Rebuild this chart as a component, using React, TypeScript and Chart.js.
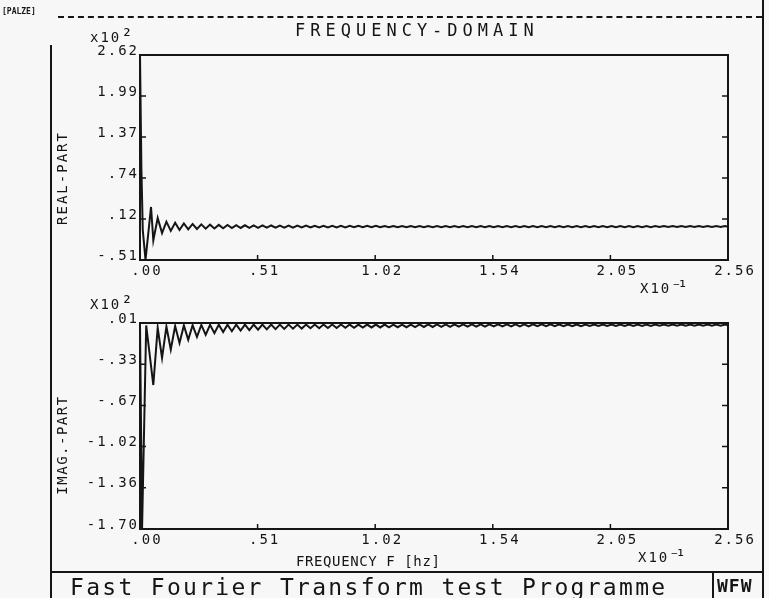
import React, { useEffect, useRef } from "react";
import { Chart, registerables } from "chart.js";

Chart.register(...registerables);

// ---------- axis data ----------
const freqMin = 0;
const freqMax = 2.56; // x10^-1 Hz
const freqTickValues = [0, 0.512, 1.024, 1.536, 2.048, 2.56];
const freqTickLabels = [".00", ".51", "1.02", "1.54", "2.05", "2.56"];

const realMin = -0.51;
const realMax = 2.62; // x10^2
const realTickValues = [-0.51, 0.116, 0.742, 1.368, 1.994, 2.62];
const realTickLabels = ["-.51", ".12", ".74", "1.37", "1.99", "2.62"];

const imagMin = -1.7;
const imagMax = 0.01; // x10^2
const imagTickValues = [-1.7, -1.358, -1.016, -0.674, -0.332, 0.01];
const imagTickLabels = ["-1.70", "-1.36", "-1.02", "-.67", "-.33", ".01"];

// ---------- series data ----------
const realHeadFreq = [0, 0.006, 0.012, 0.024, 0.048];
const realHeadValues = [2.62, 0.9, -0.05, -0.51, 0.3];

const imagHeadFreq = [0, 0.009, 0.027];
const imagHeadValues = [0.0, -1.7, -0.01];

// ripple part, sampled at the ripple extremes (uniform frequency bins)
const rippleStartFreq = 0.058;
const rippleBinWidth = 0.019;

const realRipple = [
  -0.21, 0.13, -0.1, 0.075, -0.065, 0.058, -0.052, 0.047, -0.043, 0.04,
  -0.037, 0.034, -0.032, 0.03, -0.028, 0.026, -0.025, 0.024, -0.023, 0.022,
  -0.021, 0.02, -0.019, 0.019, -0.018, 0.018, -0.017, 0.017, -0.016, 0.016,
  -0.015, 0.015, -0.015, 0.014, -0.014, 0.014, -0.013, 0.013, -0.013, 0.013,
  -0.012, 0.012, -0.012, 0.012, -0.012, 0.011, -0.011, 0.011, -0.011, 0.011,
  -0.011, 0.011, -0.01, 0.01, -0.01, 0.01, -0.01, 0.01, -0.01, 0.01,
  -0.01, 0.01, -0.01, 0.01, -0.009, 0.009, -0.009, 0.009, -0.009, 0.009,
  -0.009, 0.009, -0.009, 0.009, -0.009, 0.009, -0.009, 0.009, -0.009, 0.009,
  -0.009, 0.009, -0.009, 0.009, -0.008, 0.008, -0.008, 0.008, -0.008, 0.008,
  -0.008, 0.008, -0.008, 0.008, -0.008, 0.008, -0.008, 0.008, -0.008, 0.008,
  -0.008, 0.008, -0.008, 0.008, -0.008, 0.008, -0.008, 0.008, -0.008, 0.008,
  -0.008, 0.008, -0.008, 0.008, -0.008, 0.008, -0.007, 0.007, -0.007, 0.007,
  -0.007, 0.007, -0.007, 0.007, -0.007, 0.007, -0.007, 0.007, -0.007, 0.007,
  -0.007, 0.007, -0.007,
];

const imagRipple = [
  -0.505, -0.03, -0.28, -0.02, -0.21, -0.015, -0.155, -0.01, -0.13, -0.008,
  -0.105, -0.006, -0.088, -0.005, -0.074, -0.004, -0.065, -0.004, -0.058, -0.003,
  -0.053, -0.003, -0.049, -0.003, -0.046, -0.003, -0.043, -0.003, -0.041, -0.003,
  -0.039, -0.003, -0.037, -0.003, -0.036, -0.003, -0.034, -0.003, -0.033, -0.003,
  -0.032, -0.003, -0.031, -0.003, -0.03, -0.003, -0.029, -0.003, -0.028, -0.003,
  -0.027, -0.003, -0.027, -0.003, -0.026, -0.003, -0.025, -0.003, -0.025, -0.003,
  -0.024, -0.002, -0.023, -0.002, -0.023, -0.002, -0.022, -0.002, -0.022, -0.002,
  -0.021, -0.002, -0.021, -0.002, -0.02, -0.002, -0.02, -0.002, -0.019, -0.002,
  -0.019, -0.002, -0.018, -0.002, -0.018, -0.002, -0.018, -0.002, -0.017, -0.002,
  -0.017, -0.002, -0.017, -0.002, -0.016, -0.002, -0.016, -0.002, -0.016, -0.002,
  -0.015, -0.002, -0.015, -0.002, -0.015, -0.002, -0.015, -0.002, -0.014, -0.002,
  -0.014, -0.002, -0.014, -0.002, -0.014, -0.002, -0.013, -0.002, -0.013, -0.002,
  -0.013, -0.002, -0.013, -0.002, -0.012, -0.002, -0.012, -0.002, -0.012, -0.002,
  -0.012, -0.002, -0.012,
];

// ---------- helpers ----------
const MONO = "'DejaVu Sans Mono', monospace";
const INK = "#151515";
const BG = "#f7f7f7";

function buildPoints(headFreq: number[], headValues: number[], ripple: number[]) {
  const pts = headFreq.map((f, i) => ({ x: f, y: headValues[i] }));
  ripple.forEach((v, i) => pts.push({ x: rippleStartFreq + i * rippleBinWidth, y: v }));
  return pts;
}

const framePlugin = {
  id: "plotterFrame",
  beforeDraw(chart: any) {
    chart.ctx.letterSpacing = "2px";
  },
  afterDatasetsDraw(chart: any) {
    const ctx = chart.ctx;
    const { left, top, right, bottom } = chart.chartArea;
    const xs = chart.scales.x;
    const ys = chart.scales.y;
    ctx.save();
    ctx.strokeStyle = INK;
    ctx.lineWidth = 2;
    ctx.strokeRect(left, top, right - left, bottom - top);
    ctx.lineWidth = 1.5;
    ctx.beginPath();
    ys.ticks.forEach((t: any, i: number) => {
      if (i === 0 || i === ys.ticks.length - 1) return;
      const y = ys.getPixelForValue(t.value);
      ctx.moveTo(left, y);
      ctx.lineTo(left + 6, y);
      ctx.moveTo(right, y);
      ctx.lineTo(right - 6, y);
    });
    xs.ticks.forEach((t: any, i: number) => {
      if (i === 0 || i === xs.ticks.length - 1) return;
      const x = xs.getPixelForValue(t.value);
      ctx.moveTo(x, bottom);
      ctx.lineTo(x, bottom - 5);
    });
    ctx.stroke();
    ctx.restore();
  },
};

type PanelProps = {
  top: number;
  height: number;
  padTop: number;
  padBottom: number;
  xAxisHeight: number;
  points: { x: number; y: number }[];
  yMin: number;
  yMax: number;
  yTickValues: number[];
  yTickLabels: string[];
};

function Panel(p: PanelProps) {
  const ref = useRef<HTMLCanvasElement>(null);
  useEffect(() => {
    const tickFont = { family: MONO, size: 14 };
    const chart = new Chart(ref.current as HTMLCanvasElement, {
      type: "line",
      data: {
        datasets: [
          {
            data: p.points,
            borderColor: INK,
            borderWidth: 2,
            pointRadius: 0,
            tension: 0,
            fill: false,
          },
        ],
      },
      options: {
        animation: false,
        responsive: false,
        maintainAspectRatio: false,
        devicePixelRatio: 1,
        events: [],
        layout: {
          autoPadding: false,
          padding: { left: 0, top: p.padTop, right: 41, bottom: p.padBottom },
        },
        plugins: {
          legend: { display: false },
          tooltip: { enabled: false },
          title: { display: false },
        },
        scales: {
          x: {
            type: "linear",
            min: freqMin,
            max: freqMax,
            afterBuildTicks: (s: any) => {
              s.ticks = freqTickValues.map((v) => ({ value: v }));
            },
            afterFit: (s: any) => {
              s.height = p.xAxisHeight;
            },
            grid: { display: false, drawTicks: false },
            border: { display: false },
            ticks: {
              autoSkip: false,
              maxRotation: 0,
              padding: 3,
              labelOffset: 7,
              color: INK,
              font: tickFont,
              callback: (_v: any, i: number) => freqTickLabels[i],
            },
          },
          y: {
            type: "linear",
            min: p.yMin,
            max: p.yMax,
            afterBuildTicks: (s: any) => {
              s.ticks = p.yTickValues.map((v) => ({ value: v }));
            },
            afterFit: (s: any) => {
              s.width = 140;
            },
            grid: { display: false, drawTicks: false },
            border: { display: false },
            ticks: {
              autoSkip: false,
              padding: 1,
              labelOffset: -4,
              color: INK,
              font: tickFont,
              callback: (_v: any, i: number) => p.yTickLabels[i],
            },
          },
        },
      },
      plugins: [framePlugin],
    } as any);
    return () => chart.destroy();
  }, []);
  return (
    <canvas
      ref={ref}
      width={769}
      height={p.height}
      style={{ position: "absolute", left: 0, top: p.top, width: 769, height: p.height }}
    />
  );
}

function Txt(props: { x: number; y: number; size: number; ls?: number; bold?: boolean; children: any }) {
  return (
    <div
      style={{
        position: "absolute",
        left: props.x,
        top: props.y,
        fontFamily: MONO,
        fontSize: props.size,
        lineHeight: `${props.size}px`,
        letterSpacing: props.ls ?? 0,
        fontWeight: props.bold ? 700 : 400,
        color: INK,
        whiteSpace: "nowrap",
      }}
    >
      {props.children}
    </div>
  );
}

function Sup(props: { size: number; ls: number; children: any }) {
  return (
    <span style={{ fontSize: props.size, lineHeight: "14px", letterSpacing: props.ls }}>
      {props.children}
    </span>
  );
}

function VTxt(props: { cx: number; cy: number; size: number; ls: number; children: any }) {
  return (
    <div
      style={{
        position: "absolute",
        left: props.cx,
        top: props.cy,
        transform: "translate(-50%, -50%) rotate(-90deg)",
        fontFamily: MONO,
        fontSize: props.size,
        lineHeight: `${props.size}px`,
        letterSpacing: props.ls,
        color: INK,
        whiteSpace: "nowrap",
      }}
    >
      {props.children}
    </div>
  );
}

function Line(props: { x: number; y: number; w?: number; h?: number; dashed?: boolean }) {
  const horiz = props.w !== undefined;
  const border = `2px ${props.dashed ? "dashed" : "solid"} ${INK}`;
  return (
    <div
      style={{
        position: "absolute",
        left: props.x,
        top: props.y,
        width: horiz ? props.w : 0,
        height: horiz ? 0 : props.h,
        borderTop: horiz ? border : undefined,
        borderLeft: horiz ? undefined : border,
      }}
    />
  );
}

export default function App() {
  const realPoints = buildPoints(realHeadFreq, realHeadValues, realRipple);
  const imagPoints = buildPoints(imagHeadFreq, imagHeadValues, imagRipple);
  return (
    <div
      style={{
        position: "fixed",
        left: 0,
        top: 0,
        width: 769,
        height: 598,
        background: BG,
        overflow: "hidden",
      }}
    >
      <Panel
        top={0}
        height={290}
        padTop={55}
        padBottom={0}
        xAxisHeight={30}
        points={realPoints}
        yMin={realMin}
        yMax={realMax}
        yTickValues={realTickValues}
        yTickLabels={realTickLabels}
      />
      <Panel
        top={290}
        height={308}
        padTop={33}
        padBottom={44}
        xAxisHeight={25}
        points={imagPoints}
        yMin={imagMin}
        yMax={imagMax}
        yTickValues={imagTickValues}
        yTickLabels={imagTickLabels}
      />

      {/* outer frame */}
      <Line x={58} y={16} w={704} dashed />
      <Line x={50} y={45} h={553} />
      <Line x={762} y={0} h={598} />
      <Line x={50} y={571} w={713} />
      <Line x={712} y={572} h={26} />

      <Txt x={2} y={8} size={8} bold>[PALZE]</Txt>
      <Txt x={295} y={22} size={17} ls={5}>FREQUENCY-DOMAIN</Txt>

      <Txt x={90} y={28} size={14} ls={2}>x10<Sup size={19} ls={0}>²</Sup></Txt>
      <Txt x={640} y={280} size={14} ls={2}>X10<Sup size={17} ls={-4}>⁻¹</Sup></Txt>
      <Txt x={90} y={295} size={14} ls={2}>X10<Sup size={19} ls={0}>²</Sup></Txt>
      <Txt x={638} y={549} size={14} ls={2}>X10<Sup size={17} ls={-4}>⁻¹</Sup></Txt>

      <VTxt cx={62} cy={178} size={14} ls={2}>REAL-PART</VTxt>
      <VTxt cx={62} cy={445} size={14} ls={1.5}>IMAG.-PART</VTxt>

      <Txt x={296} y={554} size={14} ls={0.6}>FREQUENCY F [hz]</Txt>
      <Txt x={70} y={576} size={23} ls={2.3}>Fast Fourier Transform test Programme</Txt>
      <Txt x={717} y={577} size={18} ls={1} bold>WFW</Txt>
    </div>
  );
}
